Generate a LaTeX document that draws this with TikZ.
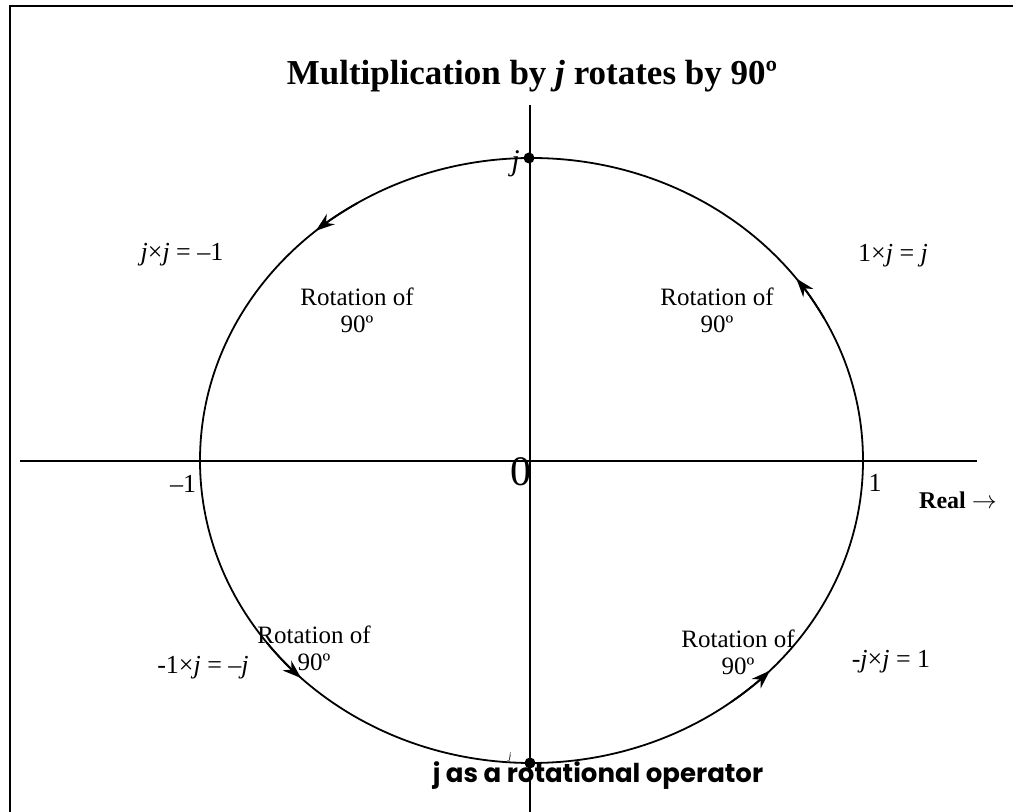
\documentclass[tikz,border=0pt]{standalone}
\usepackage{fontspec}
\setmainfont{Liberation Serif}
\newfontfamily\opfont{Poppins}
\usetikzlibrary{arrows.meta}
\tikzset{
  lbl/.style={inner sep=0pt, font=\fontsize{26}{30}\selectfont},
  rot/.style={inner sep=0pt, align=center, font=\fontsize{25}{27}\selectfont},
  axis/.style={line width=2pt},
  rotarrow/.style={line width=1.8pt, -{Stealth[length=19pt,width=13pt]}},
  dot/.style={circle, fill=black, inner sep=0pt, minimum size=11pt}
}
\begin{document}
\begin{tikzpicture}[x=1pt,y=1pt]
\useasboundingbox (0,0) rectangle (1013,812);
% frame
\draw[line width=2pt] (10,0) -- (10,806) -- (1013,806);
% axes
\coordinate (xl) at (20,351);
\coordinate (xr) at (977,351);
\coordinate (yt) at (530,707);
\coordinate (yb) at (530,0);
\draw[axis] (xl) -- (xr);
\draw[axis] (yt) -- (yb);
% unit circle
\coordinate (c) at (531.5,351.5);
\draw[line width=1.8pt] (c) ellipse [x radius=331.5, y radius=302.5];
% arrows
\foreach \a in {130.6,37,226,316}{
  \draw[rotarrow, shift={(c)}] (\a-9:331.5 and 302.5) arc[start angle=\a-9, end angle=\a, x radius=331.5, y radius=302.5];
}
% dots
\node[dot] (top) at (529,654) {};
\node[dot] (bot) at (530,49) {};
\node[lbl, anchor=east, font=\fontsize{30}{30}\selectfont] (jtop) at (520,648) {\textit{j}};
\node[inner sep=0pt, font=\fontsize{10}{10}\selectfont] (jbot) at (510,55) {\textit{j}};
% title
\node[inner sep=0pt, font=\fontsize{35}{38}\selectfont\bfseries] (title) at (532,736) {Multiplication by \textit{j} rotates by 90º};
% labels
\node[lbl] (ul) at (182,557) {\textit{j}×\textit{j} = –1};
\node[lbl] (ur) at (893,556) {1×\textit{j} = \textit{j}};
\node[lbl] (ll) at (203,144) {-1×\textit{j} = –\textit{j}};
\node[lbl] (lr) at (891,150) {-\textit{j}×\textit{j} = 1};
\node[rot] (rul) at (357,502) {Rotation of\\90º};
\node[rot] (rur) at (717,502) {Rotation of\\90º};
\node[rot] (rll) at (314,164) {Rotation of\\90º};
\node[rot] (rlr) at (738,160) {Rotation of\\90º};
% axis labels
\node[lbl] (m1) at (183,328) {–1};
\node[inner sep=0pt, font=\fontsize{42}{42}\selectfont] (zero) at (521,340) {0};
\node[lbl] (p1) at (875,329) {1};
\node[inner sep=0pt, font=\fontsize{24}{26}\selectfont\bfseries] (real) at (958,312) {Real $\rightarrow$};
% caption
\node[inner sep=0pt, font=\opfont\fontsize{26}{28}\selectfont\bfseries] (cap) at (598,36) {j as a rotational operator};
\end{tikzpicture}
\end{document}
